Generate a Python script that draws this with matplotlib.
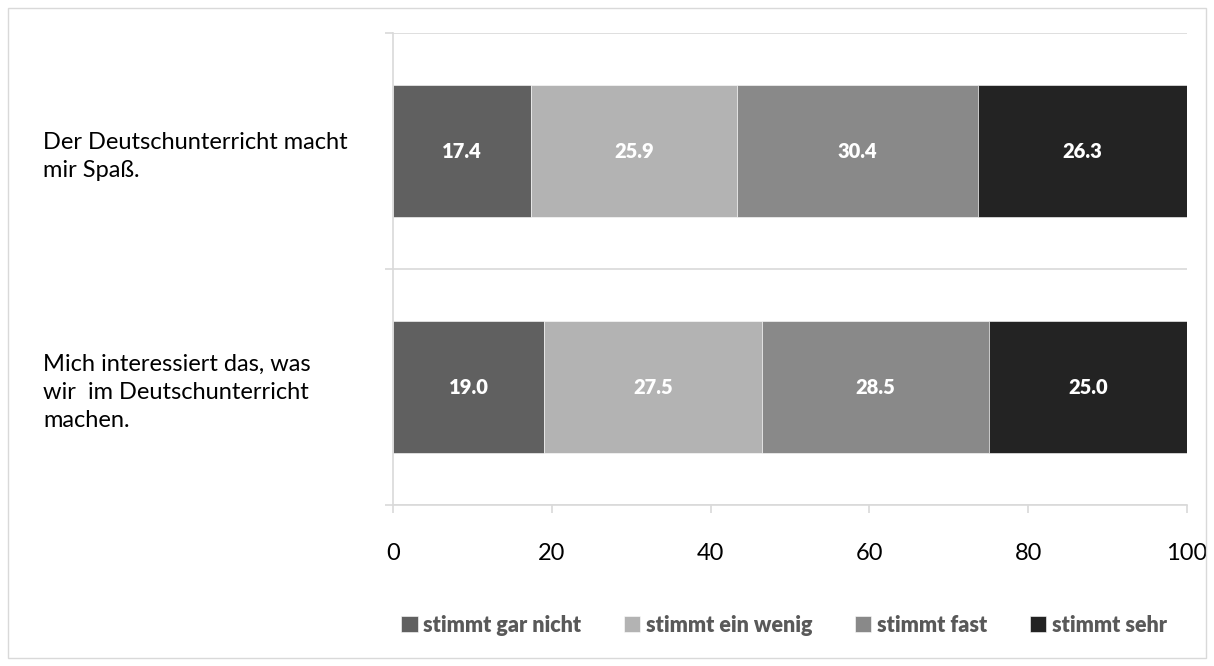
import numpy as np
import matplotlib.pyplot as plt
from matplotlib.patches import Rectangle

plt.rcParams['font.family'] = ['Lato', 'DejaVu Sans']

# data
statements = ["Mich interessiert das, was\nwir  im Deutschunterricht\nmachen.",
              "Der Deutschunterricht macht\nmir Spaß."]
answers = ["stimmt gar nicht", "stimmt ein wenig", "stimmt fast", "stimmt sehr"]
gar_nicht = [19.0, 17.4]
ein_wenig = [27.5, 25.9]
fast = [28.5, 30.4]
sehr = [25.0, 26.3]
xticks = [0, 20, 40, 60, 80, 100]

colors = ['#606060', '#b3b3b3', '#898989', '#232323']
grid_col = '#d9d9d9'

fig = plt.figure(figsize=(12.14, 6.66), dpi=100)
ax = fig.add_axes([393/1214, 1-505/666, (1187-393)/1214, (505-33)/666])

y = np.arange(len(statements))
left = np.zeros(len(statements))
for vals, lab, c in zip([gar_nicht, ein_wenig, fast, sehr], answers, colors):
    bars = ax.barh(y, vals, left=left, height=0.556, color=c, label=lab,
                   edgecolor='white', linewidth=0.4)
    ax.bar_label(bars, labels=['%.1f' % v for v in vals], label_type='center',
                 color='white', fontsize=14.5, fontweight='heavy')
    left += np.array(vals)

ax.set_xlim(0, 100)
ax.set_ylim(-0.5, 1.5)
ax.set_xticks(xticks)
ax.set_xticklabels([str(t) for t in xticks], fontsize=17)
ax.tick_params(axis='x', length=6, color=grid_col, width=1.2, pad=21)

ax.set_yticks(y)
ax.set_yticklabels(statements, fontsize=17, linespacing=1.4)
for t in ax.get_yticklabels():
    t.set_horizontalalignment('left')
ax.tick_params(axis='y', which='major', length=0, pad=252)
ax.set_yticks([-0.5, 0.5, 1.5], minor=True)
ax.tick_params(axis='y', which='minor', length=6, color=grid_col, width=1.2)
ax.grid(axis='y', which='minor', color=grid_col, linewidth=1.2)
ax.set_axisbelow(True)

for s in ['top', 'right']:
    ax.spines[s].set_visible(False)
for s in ['left', 'bottom']:
    ax.spines[s].set_color(grid_col)
    ax.spines[s].set_linewidth(1.2)

leg = fig.legend(loc='center', bbox_to_anchor=(784/1214, 1-625/666), ncol=4,
                 frameon=False, handlelength=0.75, handleheight=0.75,
                 handletextpad=0.25, columnspacing=2.0,
                 prop={'size': 15.5, 'weight': 'heavy'})
for t in leg.get_texts():
    t.set_color('#595959')

fig.patches.append(Rectangle((8/1214, 8/666), 1198/1214, 650/666,
                             transform=fig.transFigure, fill=False,
                             edgecolor=grid_col, linewidth=1))

fig.savefig('out.png', dpi=100)
